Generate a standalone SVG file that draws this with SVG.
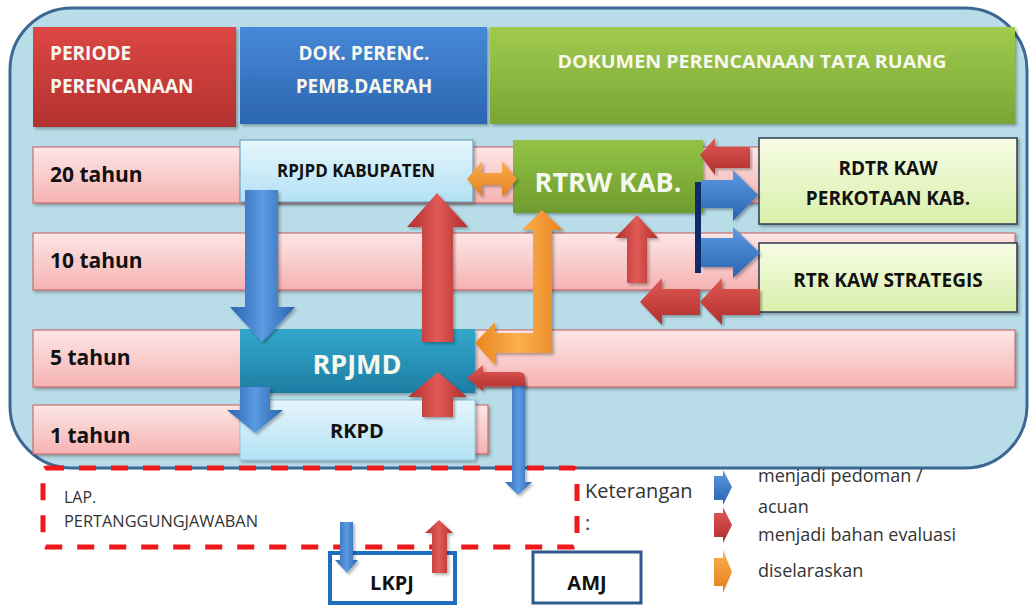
<svg xmlns="http://www.w3.org/2000/svg" width="1030" height="605" viewBox="0 0 1030 605">
<defs>
<linearGradient id="gRed" x1="0" y1="0" x2="0" y2="1"><stop offset="0" stop-color="#dc4744"/><stop offset="1" stop-color="#b3302f"/></linearGradient>
<linearGradient id="gBlue" x1="0" y1="0" x2="0" y2="1"><stop offset="0" stop-color="#4788d6"/><stop offset="1" stop-color="#2c66b2"/></linearGradient>
<linearGradient id="gGreen" x1="0" y1="0" x2="0" y2="1"><stop offset="0" stop-color="#a0cb4e"/><stop offset="1" stop-color="#78a536"/></linearGradient>
<linearGradient id="gPink" x1="0" y1="0" x2="0" y2="1"><stop offset="0" stop-color="#fde6e6"/><stop offset="1" stop-color="#f5b3b2"/></linearGradient>
<linearGradient id="gLight" x1="0" y1="0" x2="0" y2="1"><stop offset="0" stop-color="#e6f6fc"/><stop offset="1" stop-color="#b3e1f4"/></linearGradient>
<linearGradient id="gRtrw" x1="0" y1="0" x2="0" y2="1"><stop offset="0" stop-color="#92c345"/><stop offset="1" stop-color="#6e9d2e"/></linearGradient>
<linearGradient id="gTeal" x1="0" y1="0" x2="0" y2="1"><stop offset="0" stop-color="#33a8cb"/><stop offset="1" stop-color="#1d7ea3"/></linearGradient>
<linearGradient id="gLime" x1="0" y1="0" x2="0" y2="1"><stop offset="0" stop-color="#f7fce6"/><stop offset="1" stop-color="#d9efaa"/></linearGradient>
<linearGradient id="aBlueV" x1="0" y1="0" x2="1" y2="0"><stop offset="0" stop-color="#2b63b0"/><stop offset="0.5" stop-color="#5b9be2"/><stop offset="1" stop-color="#2b63b0"/></linearGradient>
<linearGradient id="aBlueH" x1="0" y1="0" x2="0" y2="1"><stop offset="0" stop-color="#5b9be2"/><stop offset="1" stop-color="#2b63b0"/></linearGradient>
<linearGradient id="aRedV" x1="0" y1="0" x2="1" y2="0"><stop offset="0" stop-color="#b12d2c"/><stop offset="0.5" stop-color="#e05a57"/><stop offset="1" stop-color="#b12d2c"/></linearGradient>
<linearGradient id="aRedH" x1="0" y1="0" x2="0" y2="1"><stop offset="0" stop-color="#e05a57"/><stop offset="1" stop-color="#b12d2c"/></linearGradient>
<linearGradient id="aOrange" x1="0" y1="0" x2="1" y2="0"><stop offset="0" stop-color="#e8841f"/><stop offset="0.5" stop-color="#fbb04f"/><stop offset="1" stop-color="#e8841f"/></linearGradient>
<linearGradient id="aOrangeH" x1="0" y1="0" x2="0" y2="1"><stop offset="0" stop-color="#fbb04f"/><stop offset="1" stop-color="#e47f1c"/></linearGradient>
<filter id="sh" x="-5%" y="-10%" width="110%" height="125%"><feDropShadow dx="2" dy="2" stdDeviation="1.5" flood-color="#000" flood-opacity="0.3"/></filter>
</defs>
<style>
.hdr{font-family:"Open Sans","Liberation Sans",sans-serif;font-weight:bold;fill:#f8f8f0;font-size:19px}
.row{font-family:"Open Sans","Liberation Sans",sans-serif;font-weight:bold;fill:#111;font-size:21px}
.bar{fill:url(#gPink);stroke:#c75a5a;stroke-width:1}
.lbl{font-family:"Open Sans","Liberation Sans",sans-serif;font-weight:bold;fill:#111;text-anchor:middle}
.big{font-family:"Open Sans","Liberation Sans",sans-serif;font-weight:bold;fill:#f4f8ee;text-anchor:middle;font-size:27px}
.note{font-family:"Open Sans","Liberation Sans",sans-serif;fill:#333;font-size:18px}
.arrow{filter:url(#sh)}
</style>
<rect x="10" y="8" width="1017" height="460" rx="62" ry="62" fill="#b8dde8" stroke="#3c6894" stroke-width="3"/>
<g id="headers">
<g id="hdr-periode"><rect x="33" y="27" width="203" height="100" fill="url(#gRed)" filter="url(#sh)"/>
<text class="hdr" x="50" y="60">PERIODE</text><text class="hdr" x="50" y="93">PERENCANAAN</text></g>
<g id="hdr-dok"><rect x="240" y="27" width="247" height="97" fill="url(#gBlue)" filter="url(#sh)"/>
<text class="hdr" x="364" y="60" text-anchor="middle">DOK. PERENC.</text><text class="hdr" x="364" y="93" text-anchor="middle">PEMB.DAERAH</text></g>
<g id="hdr-tata"><rect x="490" y="27" width="525" height="97" fill="url(#gGreen)" filter="url(#sh)"/>
<text class="hdr" x="752" y="68" text-anchor="middle" style="font-size:18px" textLength="389" lengthAdjust="spacingAndGlyphs">DOKUMEN PERENCANAAN TATA RUANG</text></g>
</g>
<g id="rows">
<g id="row-20"><rect class="bar" x="33" y="147" width="727" height="56" filter="url(#sh)"/><text class="row" x="50" y="182">20 tahun</text></g>
<g id="row-10"><rect class="bar" x="33" y="233" width="982" height="57" filter="url(#sh)"/><text class="row" x="50" y="268">10 tahun</text></g>
<g id="row-5"><rect class="bar" x="33" y="330" width="982" height="57" filter="url(#sh)"/><text class="row" x="50" y="365">5 tahun</text></g>
<g id="row-1"><rect class="bar" x="33" y="405" width="455" height="49" filter="url(#sh)"/><text class="row" x="50" y="443">1 tahun</text></g>
</g>
<g id="rpjpd"><rect x="240" y="140" width="233" height="62" fill="url(#gLight)" stroke="#5f93b3" stroke-width="1" filter="url(#sh)"/>
<text class="lbl" x="356" y="177" style="font-size:17px">RPJPD KABUPATEN</text></g>
<g id="rtrw"><rect x="513" y="140" width="190" height="73" fill="url(#gRtrw)" filter="url(#sh)"/>
<text class="big" x="608" y="192">RTRW KAB.</text></g>
<g id="rdtr"><rect x="759" y="138" width="258" height="86" fill="url(#gLime)" stroke="#2c3a48" stroke-width="1.5" filter="url(#sh)"/>
<text class="lbl" x="888" y="175" style="font-size:19px">RDTR KAW</text><text class="lbl" x="888" y="205" style="font-size:19px">PERKOTAAN KAB.</text></g>
<g id="rtr"><rect x="759" y="243" width="258" height="69" fill="url(#gLime)" stroke="#2c3a48" stroke-width="1.5" filter="url(#sh)"/>
<text class="lbl" x="888" y="287" style="font-size:19px">RTR KAW STRATEGIS</text></g>
<g id="rpjmd"><rect x="240" y="329" width="235" height="64" fill="url(#gTeal)" filter="url(#sh)"/>
<text class="big" x="357" y="374">RPJMD</text></g>
<g id="rkpd"><rect x="240" y="400" width="235" height="60" fill="url(#gLight)" stroke="#8cc4dc" stroke-width="1" filter="url(#sh)"/>
<text class="lbl" x="357" y="438" style="font-size:20px">RKPD</text></g>
<g id="lap">
<rect x="43" y="468" width="534" height="79" rx="4" fill="none" stroke="#f0181b" stroke-width="5" stroke-dasharray="17 15"/>
<text class="note" x="64" y="503" style="font-size:16px">LAP.</text><text class="note" x="64" y="527" style="font-size:16px" textLength="194" lengthAdjust="spacingAndGlyphs">PERTANGGUNGJAWABAN</text></g>
<g id="lkpj"><rect x="330" y="553" width="125" height="50" fill="#fff" stroke="#1f6fbf" stroke-width="4"/>
<text class="lbl" x="392" y="590" style="font-size:20px">LKPJ</text></g>
<g id="amj"><rect x="533" y="552" width="108" height="51" fill="#fff" stroke="#2e5b8c" stroke-width="3"/>
<text class="lbl" x="587" y="590" style="font-size:20px">AMJ</text></g>
<g id="connectors">
<polygon class="arrow" fill="url(#aBlueV)" points="245,190 278,190 278,307 295,307 262,342 230,307 245,307"/>
<polygon class="arrow" fill="url(#aBlueV)" points="240,387 270,387 270,410 283,410 255,433 227,410 240,410"/>
<polygon class="arrow" fill="url(#aRedV)" points="422,342 453,342 453,227 468,227 437,193 407,227 422,227"/>
<polygon class="arrow" fill="url(#aRedV)" points="422,417 453,417 453,397 467,397 438,372 408,397 422,397"/>
<polygon class="arrow" fill="url(#aOrangeH)" points="467,179 482,161 482,173 502,173 502,161 517,179 502,197 502,185 482,185 482,197"/>
<polygon class="arrow" fill="url(#aOrange)" points="475,343 495,322 495,333 533,333 533,230 522,230 542,210 563,230 552,230 552,353 495,353 495,365"/>
<polygon class="arrow" fill="url(#aBlueV)" points="512,380 525,380 525,482 532,482 518,495 505,482 512,482"/>
<path class="arrow" fill="url(#aRedH)" d="M467,378 L483,365 L483,372 L519,372 Q525,372 525,378 L525,386 L483,386 L483,391 Z"/>
<polygon class="arrow" fill="url(#aRedH)" points="700,155 715,138 715,147 750,147 750,168 715,168 715,175"/>
<rect x="695" y="182" width="6" height="91" fill="#0d2a6b"/>
<polygon class="arrow" fill="url(#aBlueH)" points="701,180 733,180 733,170 758,195 733,221 733,208 701,208"/>
<polygon class="arrow" fill="url(#aBlueH)" points="701,238 733,238 733,227 760,253 733,278 733,267 701,267"/>
<polygon class="arrow" fill="url(#aRedV)" points="627,283 647,283 647,238 658,238 637,215 615,238 627,238"/>
<polygon class="arrow" fill="url(#aRedH)" points="640,302 662,278 662,289 700,289 700,315 662,315 662,325"/>
<polygon class="arrow" fill="url(#aRedH)" points="700,302 722,278 722,289 760,289 760,315 722,315 722,325"/>
<polygon class="arrow" fill="url(#aBlueV)" points="340,522 353,522 353,560 358,560 347,573 335,560 340,560"/>
<polygon class="arrow" fill="url(#aRedV)" points="432,573 447,573 447,533 453,533 439,520 425,533 432,533"/>
</g>
<g id="legend">
<text class="note" x="585" y="498" style="font-size:20px">Keterangan</text>
<text class="note" x="585" y="530" style="font-size:20px">:</text>
<polygon fill="url(#aBlueH)" points="714,476 723,476 723,470 732,487 723,505 723,500 714,500"/>
<polygon fill="url(#aRedH)" points="714,513 723,513 723,507 732,525 723,543 723,537 714,537"/>
<polygon fill="url(#aOrangeH)" points="714,558 723,558 723,550 732,572 723,593 723,586 714,586"/>
<text class="note" x="758" y="482">menjadi pedoman /</text>
<text class="note" x="758" y="513">acuan</text>
<text class="note" x="758" y="541">menjadi bahan evaluasi</text>
<text class="note" x="758" y="577">diselaraskan</text>
</g>
</svg>
